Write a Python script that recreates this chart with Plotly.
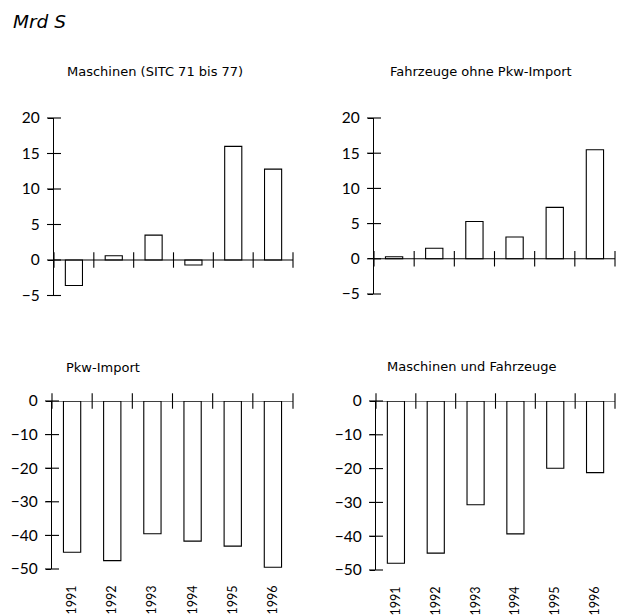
import plotly.graph_objects as go

years = ["1991", "1992", "1993", "1994", "1995", "1996"]
maschinen = [-3.6, 0.6, 3.5, -0.7, 16.0, 12.8]
fahrzeuge = [0.3, 1.5, 5.3, 3.1, 7.3, 15.5]
pkw_import = [-45.0, -47.5, -39.5, -41.7, -43.2, -49.5]
masch_fahrz = [-48.0, -45.0, -30.7, -39.3, -19.9, -21.2]

titles = ["Maschinen (SITC 71 bis 77)", "Fahrzeuge ohne Pkw-Import",
          "Pkw-Import", "Maschinen und Fahrzeuge"]
top_ticks = [-5, 0, 5, 10, 15, 20]
bottom_ticks = [-50, -40, -30, -20, -10, 0]
unit_label = "Mrd S"

NUMFONT = "Lato"
TFONT = "DejaVu Sans"
W, H = 620, 615

xpos = list(range(1, len(years) + 1))
bounds = [i + 0.5 for i in range(len(years) + 1)]

def px_x(a, b):
    return [a / W, b / W]

def px_y(top, bottom):
    return [1 - bottom / H, 1 - top / H]

panels = [
    dict(vals=maschinen, title=titles[0], xd=px_x(54, 293), yd=px_y(118, 295.5),
         yr=[-5, 20], yt=top_ticks, years=False, tx=155, ty=71, tanchor="center"),
    dict(vals=fahrzeuge, title=titles[1], xd=px_x(374, 615), yd=px_y(118, 294),
         yr=[-5, 20], yt=top_ticks, years=False, tx=481, ty=71, tanchor="center"),
    dict(vals=pkw_import, title=titles[2], xd=px_x(52, 293), yd=px_y(401, 569),
         yr=[-50, 0], yt=bottom_ticks, years=True, tx=64, ty=367, tanchor="left"),
    dict(vals=masch_fahrz, title=titles[3], xd=px_x(376, 615), yd=px_y(401, 570),
         yr=[-50, 0], yt=bottom_ticks, years=True, tx=472, ty=366, tanchor="center"),
]

fig = go.Figure()
annotations = []
shapes = []
layout = {}
for i, p in enumerate(panels, start=1):
    xa = "x" if i == 1 else f"x{i}"
    ya = "y" if i == 1 else f"y{i}"
    fig.add_trace(go.Bar(
        x=xpos, y=p["vals"], xaxis=xa, yaxis=ya, width=0.43,
        marker=dict(color="white", line=dict(color="black", width=1.1)),
        showlegend=False, hoverinfo="skip"))
    # tick marks on the zero line at category boundaries
    fig.add_trace(go.Scatter(
        x=bounds, y=[0] * len(bounds), xaxis=xa, yaxis=ya, mode="markers",
        marker=dict(symbol="line-ns", size=11, line=dict(color="black", width=1.1)),
        cliponaxis=False, showlegend=False, hoverinfo="skip"))
    # crossing tick marks on the value axis
    fig.add_trace(go.Scatter(
        x=[bounds[0]] * len(p["yt"]), y=p["yt"], xaxis=xa, yaxis=ya, mode="markers",
        marker=dict(symbol="line-ew", size=10, line=dict(color="black", width=1.1)),
        cliponaxis=False, showlegend=False, hoverinfo="skip"))
    shapes.append(dict(type="line", xref=f"{xa} domain", yref=ya,
                       x0=0, x1=1, y0=0, y1=0,
                       line=dict(color="black", width=1.1), layer="above"))
    xkey = "xaxis" if i == 1 else f"xaxis{i}"
    ykey = "yaxis" if i == 1 else f"yaxis{i}"
    layout[xkey] = dict(
        domain=p["xd"], anchor=ya, range=[0.5, len(years) + 0.5],
        showline=False, showgrid=False, zeroline=False, ticks="",
        tickmode="array", tickvals=xpos, ticktext=years,
        showticklabels=p["years"], tickangle=-90, automargin=False,
        ticklabelstandoff=13,
        tickfont=dict(family=NUMFONT, size=12.5, color="black"))
    layout[ykey] = dict(
        domain=p["yd"], anchor=xa, range=p["yr"], automargin=False,
        showline=True, linecolor="black", linewidth=1.1,
        showgrid=False, zeroline=False,
        ticks="outside", ticklen=5, tickwidth=1.1, tickcolor="black",
        ticklabelstandoff=5,
        tickmode="array", tickvals=p["yt"],
        tickfont=dict(family=NUMFONT, size=15.5, color="black"))
    annotations.append(dict(
        text=p["title"], xref="paper", yref="paper",
        x=p["tx"] / W, y=1 - p["ty"] / H, xanchor=p["tanchor"], yanchor="middle",
        showarrow=False, font=dict(family=TFONT, size=13, color="black")))

annotations.append(dict(
    text=f"<i>{unit_label}</i>", xref="paper", yref="paper",
    x=11 / W, y=1 - 22 / H, xanchor="left", yanchor="middle",
    showarrow=False, font=dict(family=TFONT, size=18.5, color="black")))

fig.update_layout(
    width=W, height=H,
    margin=dict(l=0, r=0, t=0, b=0, pad=0, autoexpand=False),
    paper_bgcolor="white", plot_bgcolor="white",
    annotations=annotations, shapes=shapes, bargap=0.5,
    **layout)

post = (
    "document.documentElement.style.margin='0';"
    "document.documentElement.style.padding='0';"
    "document.documentElement.style.overflow='hidden';"
    "document.body.style.margin='0';"
    "document.body.style.padding='0';"
    "document.body.style.overflow='hidden';"
    "var gd=document.getElementById('{plot_id}');"
    "gd.style.position='fixed';gd.style.left='0px';gd.style.top='0px';"
)
fig.write_html("out.html", config={"displayModeBar": False}, post_script=post)
